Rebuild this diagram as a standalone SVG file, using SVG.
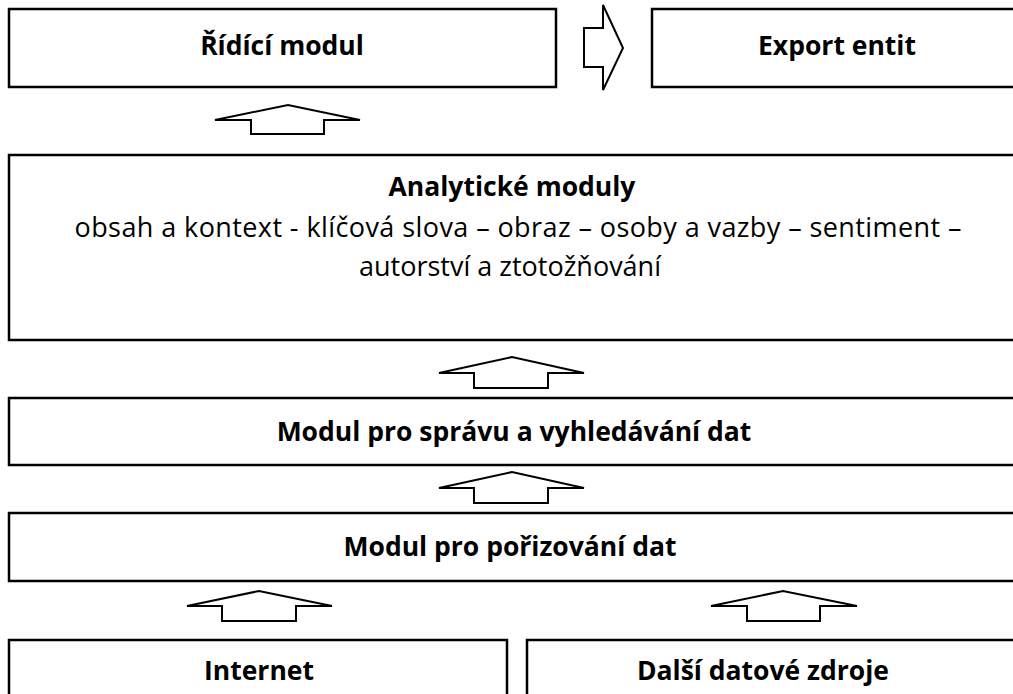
<svg xmlns="http://www.w3.org/2000/svg" width="1013" height="694" viewBox="0 0 1013 694">
<style>
.box{fill:#fff;stroke:#000;stroke-width:2.5}
.arr{fill:#fff;stroke:#000;stroke-width:2;stroke-linejoin:miter}
.t{font-family:"Open Sans","Noto Sans",sans-serif;font-size:27px;text-anchor:middle;fill:#000}
.b{font-weight:bold;font-size:26.5px}
</style>
<rect width="1013" height="694" fill="#fff"/>
<g id="ridici-modul"><rect class="box" x="9" y="9" width="547" height="78"/><text class="t b" x="282" y="55">Řídící modul</text></g>
<g id="export-entit"><rect class="box" x="652" y="9" width="370" height="78"/><text class="t b" x="837" y="55">Export entit</text></g>
<g id="analyticke-moduly"><rect class="box" x="9" y="155" width="1013" height="185"/>
<text class="t b" x="512" y="196">Analytické moduly</text>
<text class="t" x="518" y="237" textLength="887" lengthAdjust="spacing">obsah a kontext - klíčová slova – obraz – osoby a vazby – sentiment –</text>
<text class="t" x="510" y="276">autorství a ztotožňování</text></g>
<g id="sprava-dat"><rect class="box" x="9" y="398" width="1013" height="67"/><text class="t b" x="514" y="441">Modul pro správu a vyhledávání dat</text></g>
<g id="porizovani-dat"><rect class="box" x="9" y="513" width="1013" height="68"/><text class="t b" x="510" y="556">Modul pro pořizování dat</text></g>
<g id="internet"><rect class="box" x="9" y="640" width="498" height="70"/><text class="t b" x="259" y="680">Internet</text></g>
<g id="dalsi-zdroje"><rect class="box" x="527" y="640" width="495" height="70"/><text class="t b" x="763" y="680">Další datové zdroje</text></g>
<g id="connectors">
<polygon class="arr" points="584,28 603,28 603,5 623,48 603,90 603,67 584,67"/>
<polygon class="arr" points="251,134 251,120 215,120 288,105 360,120 324,120 324,134"/>
<polygon class="arr" points="474,388 474,373 439,373 512,357 584,373 548,373 548,388"/>
<polygon class="arr" points="474,503 474,488 439,488 512,472 584,488 548,488 548,503"/>
<polygon class="arr" points="222,621 222,606 187,606 259,591 332,606 296,606 296,621"/>
<polygon class="arr" points="747,621 747,606 711,606 783,591 857,606 820,606 820,621"/>
</g>
</svg>
